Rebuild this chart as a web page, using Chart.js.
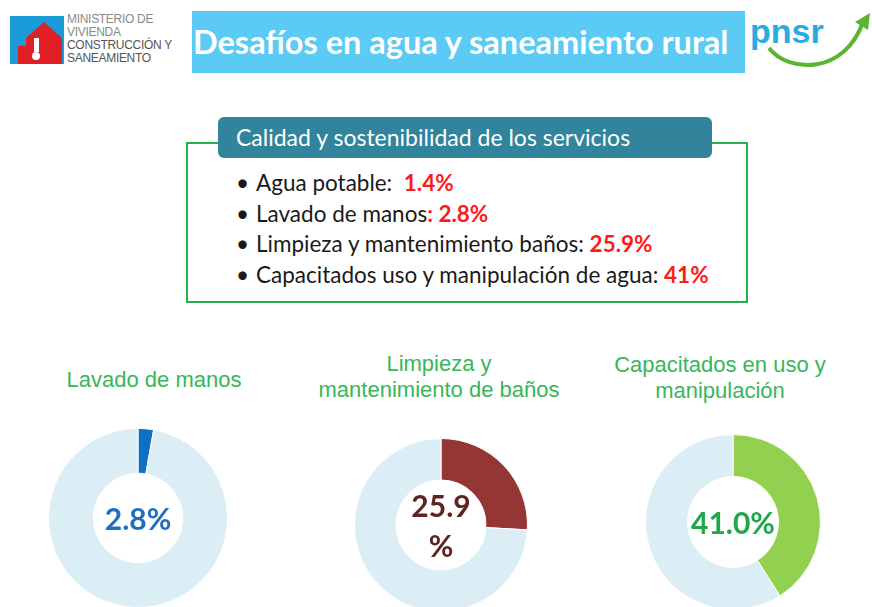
<!DOCTYPE html>
<html>
<head>
<meta charset="utf-8">
<script src="https://cdn.jsdelivr.net/npm/chart.js@4.4.1/dist/chart.umd.min.js"></script>
<style>
  html, body { margin: 0; padding: 0; background: #fff; }
  body { width: 872px; height: 607px; position: relative; overflow: hidden; font-family: Lato, "Open Sans", sans-serif; }
  .abs { position: absolute; }
  #titleBar { left: 192px; top: 11px; width: 553px; height: 62px; background: #5bcbf5; color: #fff;
              font: bold 32.5px Lato, sans-serif; line-height: 62px; padding-left: 1px; box-sizing: border-box; white-space: nowrap; }
  #minText { left: 67px; top: 13px; font: 12px "Liberation Sans", Arial, sans-serif; color: #8a8a8a; line-height: 13px; letter-spacing: -0.3px; }
  #minText b { color: #555; font-weight: normal; }
  #box { left: 186px; top: 142px; width: 562px; height: 161px; border: 2px solid #22b04a; box-sizing: border-box; }
  #tab { left: 218px; top: 117px; width: 494px; height: 41px; background: #31849b; border-radius: 6px; color: #fff;
         font: 23px Lato, sans-serif; line-height: 40px; padding-left: 18px; box-sizing: border-box; white-space: nowrap; }
  #bullets { left: 236px; top: 168px; font: 22.5px Lato, sans-serif; color: #1a1a1a; }
  #bullets div { height: 30.5px; line-height: 30.5px; white-space: pre; }
  #bullets span.b { display: inline-block; width: 20px; }
  #bullets span.v { color: #ff1a1a; font-weight: bold; }
  .dtitle { font: 22px "Liberation Sans", Arial, sans-serif; color: #38b65a; text-align: center; line-height: 26px; width: 290px; white-space: nowrap; }
  .dwrap { position: absolute; }
  .dlabel { position: absolute; left: 0; top: 0; width: 100%; height: 100%; display: flex; align-items: center; justify-content: center;
            text-align: center; font: bold 30px Lato, sans-serif; line-height: 40px; }
</style>
</head>
<body>

<!-- ministry logo -->
<svg class="abs" style="left:10px;top:16px" width="54" height="48" viewBox="0 0 54 48">
  <rect x="0" y="0" width="54" height="48" fill="#1a9ad6"/>
  <polygon points="8,48 8,30 16,30 16,22 34,6 52,22 52,48" fill="#e11f26"/>
  <rect x="24" y="22" width="5" height="14" fill="#fff"/>
  <circle cx="26" cy="40" r="4" fill="#fff"/>
</svg>
<div id="minText" class="abs">MINISTERIO DE<br>VIVIENDA<br><b>CONSTRUCCIÓN Y</b><br><b>SANEAMIENTO</b></div>

<div id="titleBar" class="abs">Desafíos en agua y saneamiento rural</div>

<!-- pnsr logo -->
<div class="abs" style="left:750px;top:12px;font:bold 34px 'Liberation Sans',Arial,sans-serif;color:#29abe2">pnsr</div>
<svg class="abs" style="left:765px;top:8px" width="107" height="64" viewBox="0 0 107 64">
  <path d="M4,40 C24,66 80,66 98,14" fill="none" stroke="#5cb531" stroke-width="4"/>
  <polygon points="90,14 105,5 103,22" fill="#5cb531"/>
</svg>

<div id="box" class="abs"></div>
<div id="tab" class="abs">Calidad y sostenibilidad de los servicios</div>
<div id="bullets" class="abs"></div>

<div id="donuts"></div>

<script>
// bullet list in the box
const bulletLabels = ["Agua potable:  ", "Lavado de manos", "Limpieza y mantenimiento baños: ", "Capacitados uso y manipulación de agua: "];
const bulletValues = ["1.4%", ": 2.8%", "25.9%", "41%"];

// donut charts
const donutTitles = [["Lavado de manos"], ["Limpieza y", "mantenimiento de baños"], ["Capacitados en uso y", "manipulación"]];
const donutValues = [2.8, 25.9, 41.0];
const donutText = [["2.8%"], ["25.9", "%"], ["41.0%"]];
const donutColors = ["#0f6fc2", "#943634", "#92d050"];
const donutTextColors = ["#1f6fbf", "#5e2422", "#1ea84a"];
const restColor = "#dceef5";

const bullets = document.getElementById("bullets");
bulletLabels.forEach((lab, i) => {
    const d = document.createElement("div");
    const b = document.createElement("span");
    b.className = "b";
    b.textContent = "\u2022";
    d.appendChild(b);
    d.appendChild(document.createTextNode(lab));
    const v = document.createElement("span");
    v.className = "v";
    v.textContent = bulletValues[i];
    d.appendChild(v);
    bullets.appendChild(d);
});

// layout of each donut block
const blocks = [
    { cx: 154, titleTop: 367, left: 48, top: 428, size: 180, cut: "50%" },
    { cx: 439, titleTop: 351, left: 354, top: 438, size: 174, cut: "52%" },
    { cx: 720, titleTop: 352, left: 645, top: 434, size: 176, cut: "52%" }
];

const holder = document.getElementById("donuts");
blocks.forEach((b, i) => {
    const t = document.createElement("div");
    t.className = "dtitle abs";
    t.style.left = (b.cx - 145) + "px";
    t.style.top = b.titleTop + "px";
    t.innerHTML = donutTitles[i].join("<br>");
    holder.appendChild(t);

    const wrap = document.createElement("div");
    wrap.className = "dwrap";
    wrap.style.left = b.left + "px";
    wrap.style.top = b.top + "px";
    wrap.style.width = b.size + "px";
    wrap.style.height = b.size + "px";
    const cv = document.createElement("canvas");
    cv.width = b.size;
    cv.height = b.size;
    wrap.appendChild(cv);
    const lbl = document.createElement("div");
    lbl.className = "dlabel";
    lbl.style.color = donutTextColors[i];
    lbl.innerHTML = donutText[i].join("<br>");
    wrap.appendChild(lbl);
    holder.appendChild(wrap);

    new Chart(cv, {
        type: "doughnut",
        data: {
            labels: ["value", "rest"],
            datasets: [{
                data: [donutValues[i], 100 - donutValues[i]],
                backgroundColor: [donutColors[i], restColor],
                borderColor: "#fff",
                borderWidth: 1
            }]
        },
        options: {
            responsive: false,
            animation: false,
            cutout: b.cut,
            layout: { padding: 0 },
            plugins: { legend: { display: false }, tooltip: { enabled: false } }
        }
    });
});
</script>
</body>
</html>
